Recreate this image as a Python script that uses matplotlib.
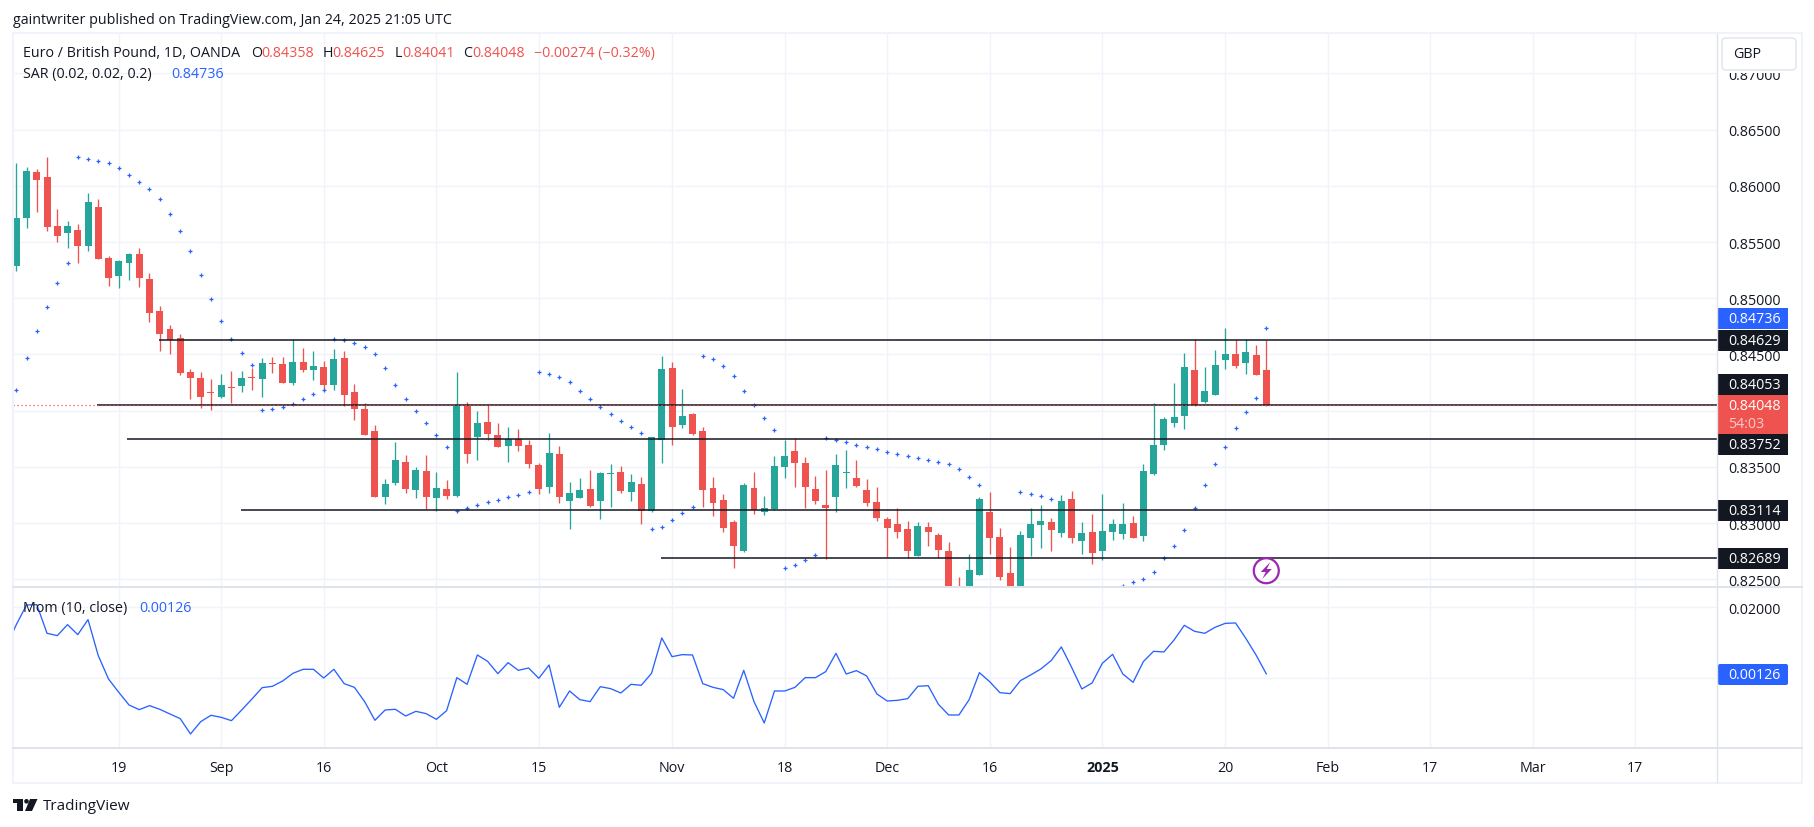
import numpy as np
import matplotlib
matplotlib.use("Agg")
import matplotlib.pyplot as plt
from matplotlib.patches import Rectangle, FancyBboxPatch, Circle, Polygon

plt.rcParams["font.family"] = ["Open Sans", "DejaVu Sans"]

W, H = 1815, 828
UP = "#26a69a"
DOWN = "#ef5350"
BLUE = "#2962ff"
INK = "#131722"
GRID = "#f0f3fa"
EDGE = "#e0e3eb"
FS = 10.3

opens = [.85291,.85715,.86124,.86080,.85644,.85582,.85608,.85466,.85813,.85359,
         .85199,.85315,.85395,.85172,.84888,.84727,.84647,.84345,.84291,.84164,
         .84122,.84211,.84220,.84300,.84282,.84425,.84416,.84247,.84433,.84362,
         .84389,.84228,.84469,.84166,.84015,.83819,.83232,.83357,.83544,.83294,
         .83464,.83223,.83303,.83241,.84042,.83766,.83900,.83784,.83686,.83751,
         .83695,.83517,.83321,.83615,.83197,.83223,.83303,.83197,.83437,.83455,
         .83277,.83348,.83108,.83739,.84380,.83873,.83971,.83819,.83312,.83205,
         .83010,.82752,.83312,.83099,.83125,.83499,.83641,.83535,.83303,.83161,
         .83232,.83446,.83401,.83294,.83188,.83036,.82992,.82947,.82707,.82965,
         .82894,.82752,.82350,.82295,.82538,.83099,.82876,.82556,.82354,.82867,
         .82983,.83010,.82912,.83214,.82841,.82921,.82752,.82921,.82903,.83001,
         .82885,.83437,.83695,.83891,.83953,.84362,.84077,.84140,.84451,.84505,
         .84424,.84496,.84358]
highs = [.86204,.86169,.86151,.86258,.85795,.85688,.85662,.85938,.85884,.85377,
         .85341,.85404,.85448,.85226,.84932,.84763,.84683,.84371,.84345,.84282,
         .84327,.84354,.84354,.84380,.84469,.84478,.84478,.84638,.84558,.84531,
         .84442,.84549,.84531,.84238,.84069,.83873,.83392,.83722,.83606,.83499,
         .83606,.83455,.83383,.84344,.84077,.83997,.84051,.83891,.83855,.83837,
         .83739,.83535,.83802,.83686,.83366,.83401,.83472,.83455,.83526,.83508,
         .83437,.83410,.83766,.84487,.84433,.84193,.83980,.83855,.83410,.83259,
         .83027,.83357,.83455,.83241,.83597,.83739,.83757,.83588,.83419,.83472,
         .83615,.83650,.83561,.83392,.83321,.83054,.83134,.83019,.83010,.83010,
         .82912,.82832,.82520,.82725,.83232,.83277,.82956,.82787,.82930,.83134,
         .83161,.83045,.83250,.83286,.83010,.83081,.83259,.83036,.83179,.83063,
         .83526,.84069,.83944,.84247,.84513,.84638,.84389,.84540,.84736,.84629,
         .84638,.84585,.84625]
lows = [.85238,.85629,.85771,.85599,.85504,.85451,.85315,.85424,.85350,.85110,
        .85092,.85163,.85101,.84790,.84532,.84505,.84318,.84105,.84024,.84007,
        .84110,.84069,.84167,.84185,.84122,.84336,.84247,.84229,.84347,.84273,
        .84184,.84184,.84044,.83917,.83784,.83232,.83170,.83339,.83268,.83223,
        .83125,.83108,.83214,.83232,.83535,.83561,.83739,.83677,.83544,.83641,
        .83490,.83259,.83268,.83179,.82947,.83223,.83143,.83036,.83143,.83268,
        .83197,.82992,.83099,.83535,.83695,.83846,.83784,.83143,.83063,.82921,
        .82600,.82743,.83081,.83072,.83116,.83401,.83321,.83134,.83170,.82680,
        .83099,.83312,.83321,.83152,.83019,.82698,.82867,.82686,.82707,.82796,
        .82686,.82206,.82250,.82236,.82538,.82725,.82494,.82265,.82295,.82707,
        .82778,.82752,.82876,.82823,.82725,.82636,.82672,.82850,.82858,.82867,
        .82841,.83428,.83650,.83855,.83837,.84042,.84069,.84140,.84371,.84380,
        .84327,.84318,.84041]
closes = [.85715,.86133,.86053,.85638,.85555,.85644,.85466,.85857,.85350,.85181,
          .85332,.85395,.85181,.84870,.84683,.84627,.84336,.84291,.84122,.84158,
          .84229,.84205,.84291,.84291,.84425,.84416,.84247,.84434,.84362,.84397,
          .84228,.84460,.84139,.84015,.83784,.83232,.83348,.83561,.83303,.83472,
          .83232,.83312,.83241,.84051,.83615,.83891,.83793,.83677,.83748,.83686,
          .83526,.83303,.83624,.83232,.83268,.83294,.83152,.83446,.83446,.83286,
          .83366,.83108,.83766,.84371,.83855,.83953,.83793,.83294,.83179,.82956,
          .82796,.83339,.83116,.83134,.83508,.83597,.83535,.83321,.83197,.83134,
          .83517,.83455,.83330,.83179,.83045,.82956,.82921,.82752,.82974,.82921,
          .82761,.82265,.82300,.82583,.83214,.82867,.82520,.82325,.82894,.82992,
          .83019,.82939,.83197,.82867,.82912,.82734,.82930,.82992,.82992,.82867,
          .83464,.83695,.83926,.83944,.84389,.84051,.84175,.84407,.84505,.84398,
          .84522,.84318,.84048]

nan = float("nan")
# SAR dots below the pane are not readable, they stay nan
sar = [.84182,.84466,.84707,.84920,.85134,.85312,.86255,.86237,.86219,.86201,
       .86157,.86095,.86032,.85970,.85881,.85748,.85596,.85418,.85205,.84991,
       .84796,.84635,.84511,.84404,.84004,.84013,.84030,.84057,.84101,.84145,
       .84181,.84635,.84626,.84599,.84564,.84502,.84377,.84226,.84101,.83994,
       .83888,.83781,.83674,.83105,.83131,.83158,.83185,.83202,.83229,.83247,
       .83274,.84341,.84324,.84297,.84252,.84172,.84101,.84030,.83968,.83905,
       .83852,.83799,.82944,.82962,.83025,.83087,.83140,.84484,.84457,.84395,
       .84306,.84172,.84048,.83932,.83825,.82597,.82624,.82669,.82713,.83754,
       .83736,.83719,.83692,.83674,.83656,.83630,.83612,.83594,.83576,.83558,
       .83541,.83523,.83478,.83407,.83336,nan,nan,nan,.83274,.83256,
       .83238,.83211,nan,nan,nan,nan,nan,nan,.82437,.82473,
       .82500,.82562,.82686,.82793,.82936,.83131,.83336,.83523,.83674,.83843,
       .83986,.84110,.84736]

# starts one bar before the first candle, cut by the pane edge
mom = [.00873,.01512,.02066,.02075,.01268,.01202,.01512,.01230,.01653,.00639,
       -.00019,-.00394,-.00751,-.00883,-.00770,-.00873,-.01005,-.01136,-.01568,-.01221,
       -.01042,-.01099,-.01193,-.00892,-.00582,-.00263,-.00225,-.00075,.00141,.00254,
       .00254,.00009,.00254,-.00150,-.00254,-.00657,-.01183,-.00892,-.00873,-.01061,
       -.00930,-.00995,-.01155,-.00911,.00019,-.00169,.00657,.00479,.00131,.00441,
       .00225,.00291,.00000,.00376,-.00817,-.00357,-.00601,-.00657,-.00235,-.00291,
       -.00413,-.00169,-.00197,.00141,.01136,.00610,.00667,.00657,-.00150,-.00254,
       -.00319,-.00563,.00225,-.00657,-.01258,-.00357,-.00357,-.00254,.00019,.00019,
       .00188,.00704,.00122,.00216,.00066,-.00441,-.00639,-.00620,-.00573,-.00225,
       -.00207,-.00732,-.01033,-.01033,-.00601,.00160,-.00094,-.00404,-.00432,-.00066,
       .00094,.00263,.00498,.00883,.00310,-.00300,-.00131,.00423,.00676,.00122,
       -.00113,.00470,.00761,.00742,.01080,.01493,.01324,.01268,.01437,.01549,
       .01559,.01127,.00657,.00126]

hline_prices = [0.84629, 0.84053, 0.83752, 0.83114, 0.82689]
hline_starts = [13.9, 7.9, 10.8, 21.9, 62.9]
last_close = 0.84048

price_ticks = [0.825, 0.83, 0.835, 0.84, 0.845, 0.85, 0.855, 0.86, 0.865, 0.87]
# 0.84000 sits fully behind the red last-price tag, so it gets no label
price_tick_labels = ["0.82500", "0.83000", "0.83500", "", "0.84500", "0.85000",
                     "0.85500", "0.86000", "0.86500", "0.87000"]
mom_ticks = [0.0, 0.02]
mom_tick_labels = ["", "0.02000"]
time_ticks = [10, 20, 30, 41, 51, 64, 75, 85, 95, 106, 118, 128, 138, 148, 158]
time_labels = ["19", "Sep", "16", "Oct", "15", "Nov", "18", "Dec", "16", "2025",
               "20", "Feb", "17", "Mar", "17"]

fig = plt.figure(figsize=(W / 100, H / 100), dpi=100, facecolor="white")


def px_axes(x0, y0, x1, y1):
    return fig.add_axes([x0 / W, 1 - y1 / H, (x1 - x0) / W, (y1 - y0) / H])


ax = px_axes(13, 35, 1717.5, 588)
ax2 = px_axes(13, 589, 1717.5, 749)
xlim = (-0.322, 166.04)

for a in (ax, ax2):
    a.set_xlim(xlim)
    a.set_axisbelow(True)
    a.grid(True, color=GRID, linewidth=1.0)
    for s in a.spines.values():
        s.set_visible(False)
    a.yaxis.tick_right()
    a.set_xticks(time_ticks)
    a.tick_params(length=0, labelsize=FS, labelcolor=INK, pad=7.5)

ax.set_ylim(0.82431, 0.87351)
ax.set_yticks(price_ticks)
ax.set_yticklabels(price_tick_labels)
ax.tick_params(labelbottom=False)

ax2.set_ylim(-0.01963, 0.02544)
ax2.set_yticks(mom_ticks)
ax2.set_yticklabels(mom_tick_labels)
ax2.set_xticklabels(time_labels)
ax2.tick_params(axis="x", pad=9)
for lab in ax2.get_xticklabels():
    if lab.get_text() == "2025":
        lab.set_fontweight("bold")

# candles
x = np.arange(len(opens))
o = np.array(opens)
h = np.array(highs)
l = np.array(lows)
c = np.array(closes)
colors = [UP if c[i] >= o[i] else DOWN for i in x]
ax.vlines(x, l, h, colors=colors, linewidth=0.95, zorder=3)
ax.bar(x, np.abs(c - o), bottom=np.minimum(o, c), width=0.68, color=colors,
       linewidth=0, zorder=4)

ax.scatter(x, sar, marker="+", s=9, linewidths=0.9, color=BLUE, zorder=5)

for p, s in zip(hline_prices, hline_starts):
    ax.hlines(p, s, xlim[1], color=INK, linewidth=1.1, zorder=6)
ax.axhline(last_close, color=DOWN, linewidth=0.9, linestyle=(0, (1, 2.2)), zorder=7)

ax2.plot(np.arange(-1, len(mom) - 1), mom, color=BLUE, linewidth=0.95, zorder=3)

# everything around the panes, in pixels
top = fig.add_axes([0, 0, 1, 1], zorder=10)
top.set_xlim(0, W)
top.set_ylim(H, 0)
top.axis("off")
top.patch.set_alpha(0)

top.add_patch(Rectangle((13, 34), 1789.5, 749.5, fill=False, edgecolor=GRID, linewidth=1.5))
top.plot([13, 1802], [588.3, 588.3], color=EDGE, linewidth=1.4)
top.plot([13, 1802], [749.3, 749.3], color=EDGE, linewidth=1.4)
top.plot([1717.5, 1717.5], [35, 783], color=EDGE, linewidth=1.0)


def txt(xp, yp, s, color=INK, size=FS, **kw):
    return top.text(xp, yp, s, color=color, fontsize=size, va="center", **kw)


txt(13, 20, "gaintwriter published on TradingView.com, Jan 24, 2025 21:05 UTC")

txt(23, 53.5, "Euro / British Pound, 1D, OANDA")
for xp, s, col in [(251, "O", INK), (261, "0.84358", DOWN), (323, "H", INK), (332.5, "0.84625", DOWN),
                   (395, "L", INK), (402, "0.84041", DOWN), (463, "C", INK), (472, "0.84048", DOWN),
                   (534, "\u22120.00274 (\u22120.32%)", DOWN)]:
    txt(xp, 53.5, s, col)
txt(23, 74.7, "SAR (0.02, 0.02, 0.2)")
txt(171.5, 74.7, "0.84736", BLUE)
txt(23, 609, "Mom (10, close)")
txt(139, 609, "0.00126", BLUE)

# white strip hides the top of the 0.87000 label, as in the reference
top.add_patch(Rectangle((1718.5, 35), 82, 38.5, facecolor="white", edgecolor="none"))
top.add_patch(FancyBboxPatch((1722, 39), 74, 32, boxstyle="round,pad=0,rounding_size=4",
                             facecolor="white", edgecolor=EDGE, linewidth=1.0))
txt(1733, 54.5, "GBP")

# price tags: (centre y, fill, label)
tags = [(319.5, BLUE, "0.84736"), (341.5, INK, "0.84629"), (385.5, INK, "0.84053"),
        (445.5, INK, "0.83752"), (511.5, INK, "0.83114"), (559.5, INK, "0.82689")]
for yc, col, s in tags:
    top.add_patch(Rectangle((1718, yc - 10.5), 70, 21, facecolor=col, edgecolor="none"))
    txt(1728.5, yc, s, "white")
top.add_patch(Rectangle((1718, 396), 70, 39, facecolor=DOWN, edgecolor="none"))
txt(1728.5, 406.5, "0.84048", "white")
txt(1728.5, 424.5, "54:03", "#fbc9c8")
top.add_patch(FancyBboxPatch((1718, 665), 70, 21, boxstyle="round,pad=0,rounding_size=2",
                             facecolor=BLUE, edgecolor="none"))
txt(1728.5, 675.5, "0.00126", "white")

# lightning badge on the last bar
cx = ax.transData.transform((x[-1], 0.825))[0]
top.add_patch(Circle((cx, 571.7), 12.5, fill=False, edgecolor="#9c27b0", linewidth=1.6))
top.add_patch(Polygon([(cx + 4, 563), (cx - 5.5, 573), (cx - 0.5, 573), (cx - 4, 580),
                       (cx + 5.5, 570), (cx + 0.5, 570)], facecolor="#9c27b0", edgecolor="none"))

# TradingView logo
top.add_patch(Polygon([(13, 800), (23.5, 800), (23.5, 812), (17.5, 812), (17.5, 804.5), (13, 804.5)],
                      facecolor=INK, edgecolor="none"))
top.add_patch(Circle((26.5, 802.3), 2.3, facecolor=INK, edgecolor="none"))
top.add_patch(Polygon([(30, 800), (37.5, 800), (32, 812), (25, 812)], facecolor=INK, edgecolor="none"))
txt(42.5, 806.5, "TradingView", size=11)

fig.savefig("out.png", dpi=100, facecolor="white")
